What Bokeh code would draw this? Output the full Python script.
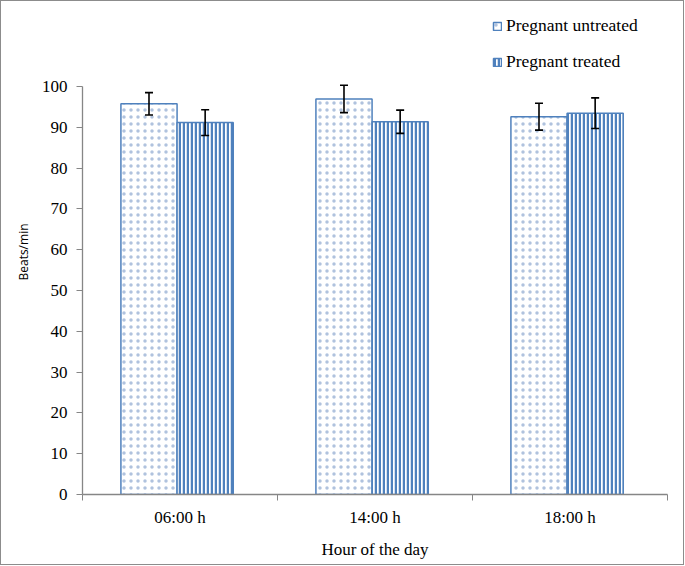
from bokeh.plotting import figure
from bokeh.layouts import column
from bokeh.models import (ColumnDataSource, FixedTicker, Whisker, TeeHead,
                          Legend, LegendItem, Range1d)
from bokeh.embed import file_html
from bokeh.resources import INLINE

# ---- data ----
categories = ["06:00 h", "14:00 h", "18:00 h"]
untreated = [95.75, 96.95, 92.6]
untreated_err = [2.75, 3.35, 3.3]
treated = [91.15, 91.35, 93.45]
treated_err = [3.15, 2.85, 3.75]
y_ticks = [0, 10, 20, 30, 40, 50, 60, 70, 80, 90, 100]
series_names = ["Pregnant untreated", "Pregnant treated"]

# ---- layout helpers (styling only) ----
center_off = 0.485
bar_w = 0.288
centers = [i + center_off for i in range(len(categories))]

src_u = ColumnDataSource(dict(
    x=[c - bar_w / 2 for c in centers], top=untreated,
    upper=[v + e for v, e in zip(untreated, untreated_err)],
    lower=[v - e for v, e in zip(untreated, untreated_err)]))
src_t = ColumnDataSource(dict(
    x=[c + bar_w / 2 for c in centers], top=treated,
    upper=[v + e for v, e in zip(treated, treated_err)],
    lower=[v - e for v, e in zip(treated, treated_err)]))

BLUE = "#4f81bd"
GRAY = "#868686"
SERIF = "Liberation Serif"

# frame extends up to the top so that the legend is inside the frame
p = figure(width=682, height=563, output_backend="svg", toolbar_location=None,
           x_range=Range1d(0, 3), y_range=Range1d(0, 118.87),
           min_border_left=81, min_border_right=16, min_border_top=8,
           min_border_bottom=70)
p.outline_line_color = None
p.xgrid.visible = False
p.ygrid.visible = False
p.background_fill_color = "white"
p.border_fill_color = "white"

r_u = p.vbar(x="x", top="top", width=bar_w, bottom=0, source=src_u,
             fill_color="white", line_color=BLUE, line_width=1.5,
             hatch_pattern="dot", hatch_color="#b0c2de", hatch_scale=7,
             hatch_weight=0.75)
r_t = p.vbar(x="x", top="top", width=bar_w, bottom=0, source=src_t,
             fill_color="white", line_color=BLUE, line_width=1.5,
             hatch_pattern="vertical_line", hatch_color=BLUE, hatch_scale=4,
             hatch_weight=2.5)

for src in (src_u, src_t):
    w = Whisker(base="x", upper="upper", lower="lower", source=src,
                line_color="black", line_width=1.6, level="annotation",
                upper_head=TeeHead(size=8, line_color="black", line_width=1.6),
                lower_head=TeeHead(size=8, line_color="black", line_width=1.6))
    p.add_layout(w)

# x axis
xa = p.xaxis[0]
xa.ticker = FixedTicker(ticks=[i + 0.5 for i in range(len(categories))],
                        minor_ticks=list(range(len(categories) + 1)))
xa.major_label_overrides = {i + 0.5: c for i, c in enumerate(categories)}
xa.major_tick_line_color = None
xa.major_tick_out = 6
xa.minor_tick_in = 0
xa.minor_tick_out = 6
xa.minor_tick_line_color = GRAY
xa.axis_line_color = GRAY
xa.axis_line_width = 1.3
xa.major_label_text_font = SERIF
xa.major_label_text_font_size = "17px"
xa.major_label_text_color = "black"
xa.major_label_standoff = 7
xa.axis_label = "Hour of the day"
xa.axis_label_text_font = SERIF
xa.axis_label_text_font_size = "17px"
xa.axis_label_text_font_style = "normal"
xa.axis_label_text_color = "black"
xa.axis_label_standoff = 10

# y axis
ya = p.yaxis[0]
ya.ticker = FixedTicker(ticks=y_ticks, minor_ticks=[])
ya.bounds = (0, 100)
ya.major_tick_in = 0
ya.major_tick_out = 6
ya.major_tick_line_color = GRAY
ya.axis_line_color = GRAY
ya.axis_line_width = 1.3
ya.major_label_text_font = SERIF
ya.major_label_text_font_size = "17px"
ya.major_label_text_color = "black"
ya.major_label_standoff = 9
ya.axis_label = "Beats/min"
ya.axis_label_text_font = "Open Sans"
ya.axis_label_text_font_size = "12px"
ya.axis_label_text_font_style = "normal"
ya.axis_label_text_color = "black"
ya.axis_label_standoff = 7

legend = Legend(items=[LegendItem(label=series_names[0], renderers=[r_u]),
                       LegendItem(label=series_names[1], renderers=[r_t])],
                location=(410, 422), orientation="vertical",
                label_text_font=SERIF, label_text_font_size="17.5px",
                label_text_color="black", glyph_width=10, glyph_height=10,
                label_height=20, spacing=15, label_standoff=4,
                padding=0, margin=0, border_line_color=None,
                background_fill_alpha=0)
p.add_layout(legend, "center")

layout = column(p, styles={"border": "1.5px solid #8c8c8c"})

open("out.html", "w").write(file_html(layout, INLINE))
